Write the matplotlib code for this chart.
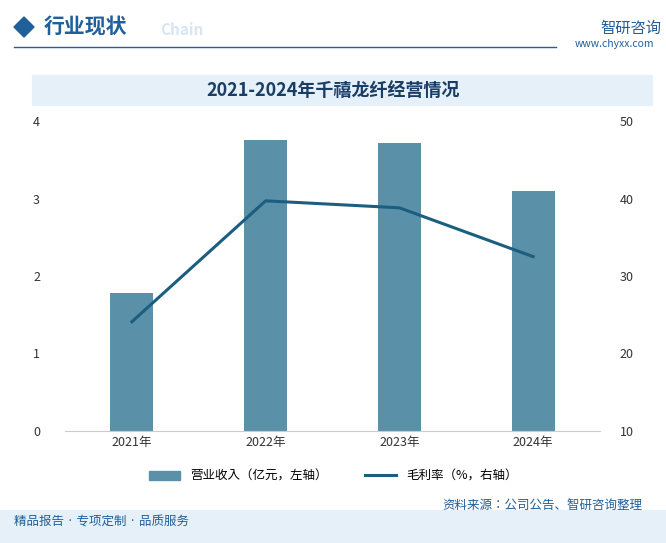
import matplotlib.pyplot as plt
from matplotlib.patches import Rectangle, Polygon
from matplotlib.lines import Line2D

plt.rcParams['font.family'] = ['Noto Sans CJK JP', 'Noto Sans CJK SC', 'DejaVu Sans']

years = ['2021年', '2022年', '2023年', '2024年']
revenue = [1.78, 3.75, 3.72, 3.10]   # 亿元, left axis
margin = [24.1, 39.7, 38.8, 32.5]    # %, right axis

W, H = 666, 543
fig = plt.figure(figsize=(W / 100, H / 100), dpi=100)

def fx(px):
    return px / W

def fy(py):
    return 1 - py / H

# header
fig.patches.append(Polygon([[fx(14), fy(27)], [fx(24), fy(17)], [fx(34), fy(27)], [fx(24), fy(37)]],
                           closed=True, transform=fig.transFigure, color='#1f5f9a'))
fig.text(fx(44), fy(27), '行业现状', fontsize=15, color='#1f5f9a', va='center', weight='bold')
fig.text(fx(160), fy(30), 'Chain', fontsize=11, color='#d8e6f2', va='center', weight='bold')
fig.add_artist(Line2D([fx(14), fx(556)], [fy(47), fy(47)], color='#1f5f9a', lw=1))
fig.text(fx(600), fy(28), '智研咨询', fontsize=11, color='#1f5f9a', va='center')
fig.text(fx(575), fy(44), 'www.chyxx.com', fontsize=7.5, color='#1f5f9a', va='center')

# title band
fig.patches.append(Rectangle((fx(32), fy(105)), fx(620), 30 / H, transform=fig.transFigure,
                             color='#e6f0f8', zorder=0))
fig.text(0.5, fy(90), '2021-2024年千禧龙纤经营情况', fontsize=13, color='#1a3d66',
         ha='center', va='center', weight='bold')

ax = fig.add_axes([fx(65), fy(431), fx(535), (431 - 121) / H])
x = range(len(years))
ax.bar(x, revenue, width=0.32, color='#5b91a8', zorder=2)
ax.set_ylim(0, 4)
ax.set_yticks([0, 1, 2, 3, 4])
ax.set_xlim(-0.5, 3.5)
ax.set_xticks(list(x))
ax.set_xticklabels(years)
for s in ['top', 'right', 'left']:
    ax.spines[s].set_visible(False)
ax.spines['bottom'].set_color('#cccccc')
ax.tick_params(axis='both', length=0, labelsize=9, colors='#333333')
ax.tick_params(axis='y', pad=18)

ax2 = ax.twinx()
ax2.plot(x, margin, color='#1b5e80', lw=2.2, zorder=3)
ax2.set_ylim(10, 50)
ax2.set_yticks([10, 20, 30, 40, 50])
for s in ax2.spines.values():
    s.set_visible(False)
ax2.tick_params(axis='y', length=0, labelsize=9, colors='#333333', pad=14)

handles = [Rectangle((0, 0), 1, 1, color='#5b91a8'), Line2D([], [], color='#1b5e80', lw=2.2)]
fig.legend(handles, ['营业收入（亿元，左轴）', '毛利率（%，右轴）'], loc='center',
           bbox_to_anchor=(0.5, fy(476)), ncol=2, frameon=False, fontsize=9,
           columnspacing=3, handlelength=2.5)

# footer
fig.text(fx(442), fy(505), '资料来源：公司公告、智研咨询整理', fontsize=9, color='#1f5f9a', va='center')
fig.patches.append(Rectangle((0, 0), 1, 33 / H, transform=fig.transFigure, color='#e6f0f8', zorder=0))
fig.text(fx(14), fy(522), '精品报告 · 专项定制 · 品质服务', fontsize=9, color='#1f5f9a', va='center')

fig.savefig('out.png', dpi=100)
